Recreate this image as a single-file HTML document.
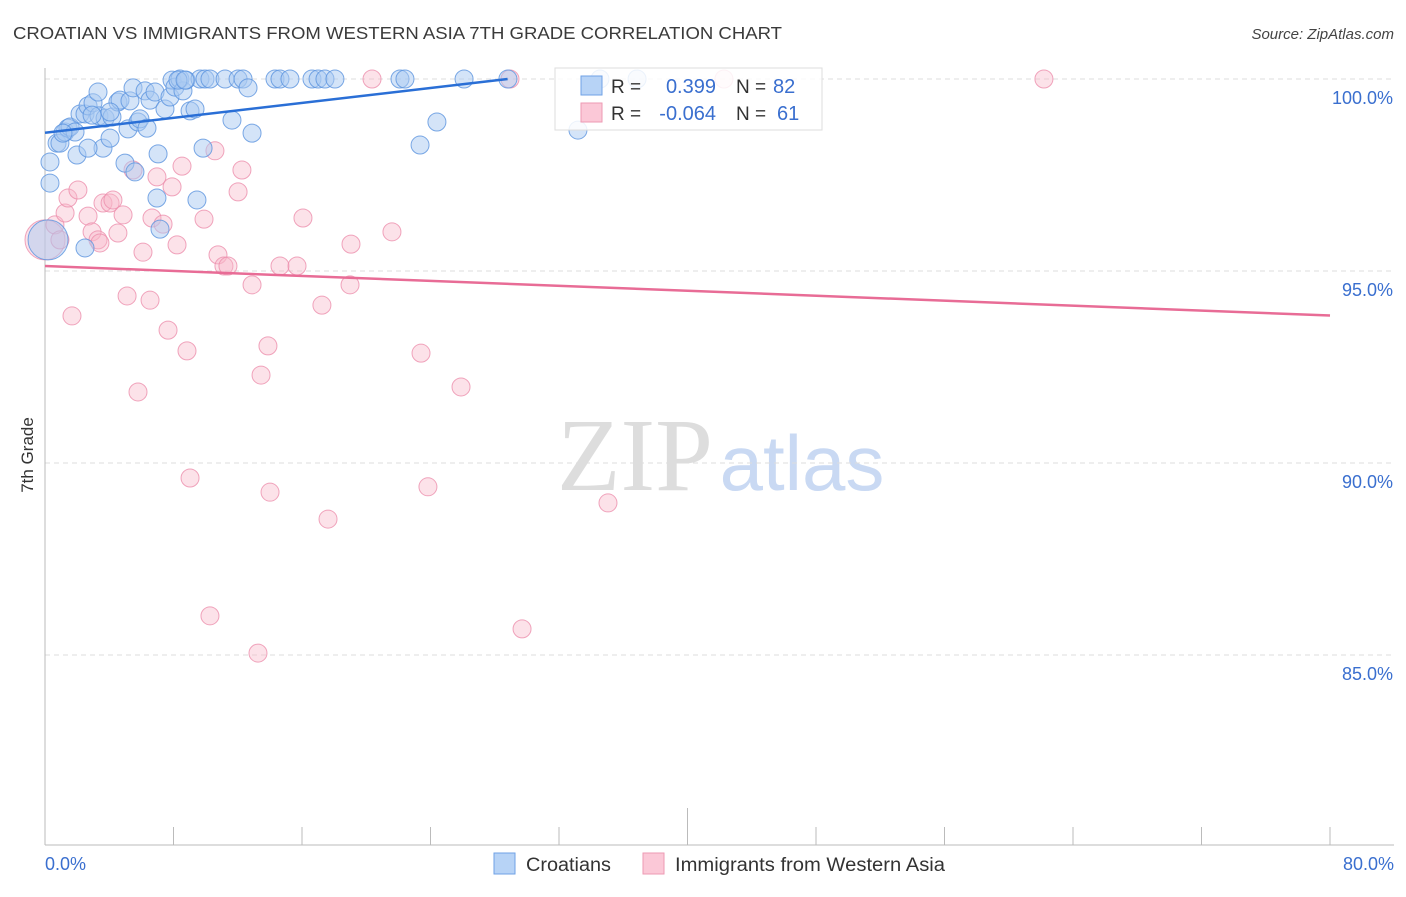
<!DOCTYPE html>
<html><head><meta charset="utf-8"><style>
body{margin:0;background:#fff;font-family:"Liberation Sans",sans-serif;}
</style></head><body>
<svg width="1406" height="892" xmlns="http://www.w3.org/2000/svg" font-family="Liberation Sans, sans-serif">
<text x="13" y="39" font-size="17.5" fill="#3a3a3a" textLength="769" lengthAdjust="spacingAndGlyphs">CROATIAN VS IMMIGRANTS FROM WESTERN ASIA 7TH GRADE CORRELATION CHART</text>
<text x="1394" y="39" font-size="15" fill="#444" text-anchor="end" font-style="italic">Source: ZipAtlas.com</text>
<text transform="translate(33,455) rotate(-90)" font-size="17" fill="#333" text-anchor="middle">7th Grade</text>
<g><text x="635" y="490" font-size="104" fill="#ddd" font-family="Liberation Serif, serif" text-anchor="middle">ZIP</text><text x="802" y="490" font-size="78" fill="#c9d9f3" text-anchor="middle">atlas</text></g>
<g id="grid"></g><g id="axes"></g><g id="pink"></g><g id="blue"></g><g id="trends"></g>
<g>
<rect x="555" y="68" width="267" height="62" fill="#fff" fill-opacity="0.85" stroke="#ddd"/>
<rect x="581" y="76" width="21" height="19" fill="#b7d3f6" stroke="#6fa1e6"/>
<rect x="581" y="103" width="21" height="19" fill="#fbc8d7" stroke="#ee9ab3"/>
<text x="611" y="93" font-size="19" fill="#333">R =</text><text x="716" y="93" font-size="20" fill="#3a6fcf" text-anchor="end">0.399</text>
<text x="736" y="93" font-size="19" fill="#333">N =</text><text x="773" y="93" font-size="20" fill="#3a6fcf">82</text>
<text x="611" y="120" font-size="19" fill="#333">R =</text><text x="716" y="120" font-size="20" fill="#3a6fcf" text-anchor="end">-0.064</text>
<text x="736" y="120" font-size="19" fill="#333">N =</text><text x="777" y="120" font-size="20" fill="#3a6fcf">61</text>
</g>
<g>
<rect x="494" y="853" width="21" height="21" fill="#b7d3f6" stroke="#6fa1e6"/>
<text x="526" y="871" font-size="19" fill="#333" textLength="85" lengthAdjust="spacingAndGlyphs">Croatians</text>
<rect x="643" y="853" width="21" height="21" fill="#fbc8d7" stroke="#ee9ab3"/>
<text x="675" y="871" font-size="19" fill="#333" textLength="270" lengthAdjust="spacingAndGlyphs">Immigrants from Western Asia</text>
</g>
<script>
const xTicks=[0,10,20,30,40,50,60,70,80];
const yTicks=[100,95,90,85];
const yTickLabels=["100.0%","95.0%","90.0%","85.0%"];
const xEndLabels=["0.0%","80.0%"];
const blueX=[0.31,0.31,0.75,0.93,1.25,1.43,1.56,1.99,2.18,2.49,2.68,2.99,3.30,3.36,3.61,3.74,4.05,4.17,4.54,4.67,4.98,5.17,5.29,5.48,5.60,5.79,5.91,6.23,6.35,6.54,6.85,6.97,7.04,7.16,7.47,7.78,7.91,8.09,8.40,8.59,8.78,9.03,9.34,9.46,9.65,9.84,9.96,10.27,11.21,11.64,12.02,12.33,12.64,12.89,14.32,14.63,15.25,16.62,17.00,17.43,18.05,22.10,22.41,23.35,24.40,26.09,28.82,33.18,34.55,36.86,2.49,0.19,1.87,2.93,4.05,1.12,2.68,8.28,8.72];
const blueY=[97.29,97.84,98.33,98.33,98.62,98.72,98.75,98.02,99.09,99.09,99.30,99.38,99.66,99.04,98.20,98.98,98.46,99.01,99.40,99.45,97.81,98.70,99.43,99.77,97.58,98.88,98.96,99.69,98.72,99.45,99.66,96.90,98.05,96.09,99.22,99.53,99.97,99.79,100,99.69,99.97,99.17,99.22,96.85,100,98.20,100,100,100,98.93,100,100,99.77,98.59,100,100,100,100,100,100,100,100,100,98.28,98.88,100,100,98.67,100,100,95.60,95.81,98.62,99.06,99.14,98.59,98.20,99.97,99.97];
const blueR=blueX.map((v,i)=>i===71?20:9);
const pinkX=[0,0.62,0.93,1.25,1.43,1.68,2.05,2.68,2.93,3.30,3.61,4.05,4.23,4.54,4.86,5.11,5.48,5.79,6.10,6.54,6.66,6.97,7.35,7.66,7.91,8.22,8.53,8.84,9.03,9.90,10.27,10.58,10.77,11.14,11.39,12.02,12.26,12.89,13.26,13.45,13.88,14.01,14.63,15.69,16.06,17.24,17.62,18.99,19.05,20.36,21.60,23.41,23.84,25.90,28.95,29.70,35.05,42.27,62.19,3.42];
const pinkY=[95.81,96.20,95.81,96.51,96.90,93.83,97.11,96.43,96.02,95.81,96.77,96.77,96.85,95.99,96.46,94.35,97.63,91.85,95.49,94.24,96.38,97.45,96.22,93.46,97.19,95.68,97.73,92.92,89.61,96.35,86.02,98.13,95.42,95.13,95.13,97.06,97.63,94.64,85.05,92.29,93.05,89.24,95.13,95.13,96.38,94.11,88.54,94.64,95.70,100,96.02,92.86,89.38,91.98,100,85.68,88.96,100,100,95.73];
const blueTrendX=[0,28.8];const blueTrendY=[98.6,100];
const pinkTrendX=[0,80];const pinkTrendY=[95.13,93.84];
const X=v=>45+v*(1285/80), Y=v=>79+(100-v)*38.4;
const NS="http://www.w3.org/2000/svg";
function mk(p,tag,a){const e=document.createElementNS(NS,tag);for(const k in a)e.setAttribute(k,a[k]);document.getElementById(p).appendChild(e);return e;}
yTicks.forEach((t,i)=>{
 const l=mk('grid','line',{x1:45,x2:1394,y1:Y(t),y2:Y(t),stroke:'#ddd','stroke-dasharray':'5,4'});
 
 
 const tx=mk('grid','text',{x:1393,y:Y(t)+25,'font-size':18,fill:'#3a6fcf','text-anchor':'end'});tx.textContent=yTickLabels[i];
 
 
});
const ax=mk('axes','line',{x1:45,x2:45,y1:68,y2:845,stroke:'#bbb'});


const bx=mk('axes','line',{x1:45,x2:1394,y1:845,y2:845,stroke:'#bbb'});


for(let i=0;i<=10;i++){const v=i*8;const t=mk('axes','line',{x1:X(v),x2:X(v),y1:i===5?808:827,y2:845,stroke:'#bbb'});
 
 }
[[0,'start',45],[80,'end',1394]].forEach((d,i)=>{const t=mk('axes','text',{x:d[2],y:870,'font-size':18,fill:'#3a6fcf','text-anchor':d[1]});t.textContent=xEndLabels[i];
 
 });
pinkX.forEach((v,i)=>{const c=mk('pink','circle',{cx:X(v),cy:Y(pinkY[i]),r:i===0?20:9,fill:'#f7b6c9','fill-opacity':0.4,stroke:'#ec8fac','stroke-opacity':0.8});
 
 });
blueX.forEach((v,i)=>{const c=mk('blue','circle',{cx:X(v),cy:Y(blueY[i]),r:blueR[i],fill:'#a9c9f2','fill-opacity':0.5,stroke:'#5b93de','stroke-opacity':0.8});
 
 });
const bt=mk('trends','line',{x1:X(blueTrendX[0]),y1:Y(blueTrendY[0]),x2:X(blueTrendX[1]),y2:Y(blueTrendY[1]),stroke:'#2a6fd6','stroke-width':2.5});


const pt=mk('trends','line',{x1:X(pinkTrendX[0]),y1:Y(pinkTrendY[0]),x2:X(pinkTrendX[1]),y2:Y(pinkTrendY[1]),stroke:'#e86c96','stroke-width':2.5});


</script>
</svg>
</body></html>
